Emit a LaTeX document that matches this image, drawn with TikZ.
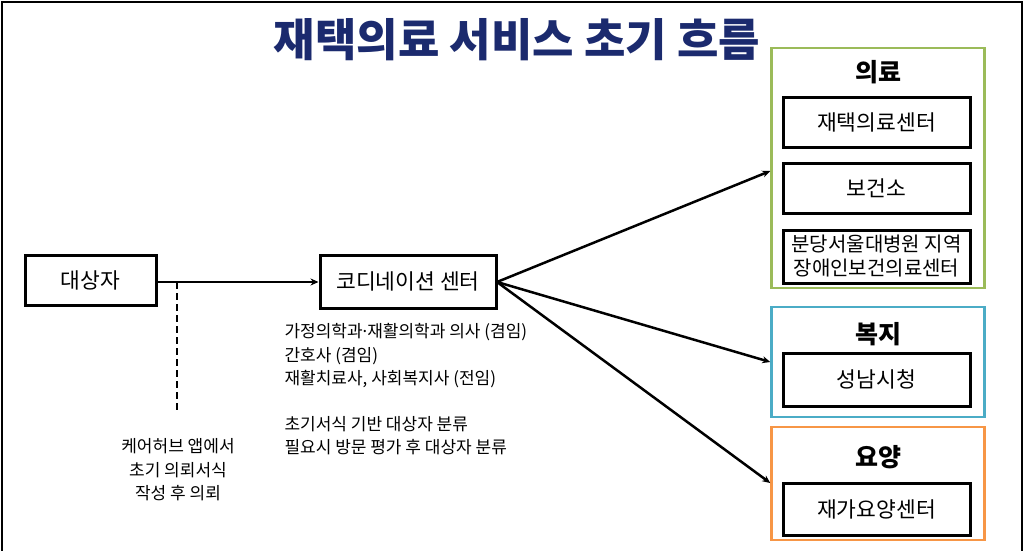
\documentclass[tikz,border=0pt]{standalone}
\usepackage{fontspec}
\setmainfont{Noto Sans CJK KR}
\newfontfamily\latinfont{Noto Sans}
\usepackage{tikz}
\usetikzlibrary{arrows.meta}
\definecolor{titleblue}{HTML}{1B2A6E}
\definecolor{grpgreen}{HTML}{9BBB59}
\definecolor{grpblue}{HTML}{4BACC6}
\definecolor{grporange}{HTML}{F79646}

\tikzset{
	box/.style={draw=black, line width=3pt, minimum width=#1, minimum height=50pt, font=\fontsize{21.5}{24}\selectfont, inner sep=0pt},
	box/.default=176pt,
	group/.style={draw=#1, line width=2.5pt, minimum width=213pt, inner sep=0pt},
	grptitle/.style={font=\fontsize{25}{28}\selectfont\bfseries},
	note/.style={font=\fontsize{17}{23.5}\selectfont},
	flow/.style={line width=2.5pt, -{Stealth[length=8pt,width=7pt]}}
}

\begin{document}
\begin{tikzpicture}[x=1pt,y=-1pt]
%\clip(0,0) rectangle (1025,550);
	\useasboundingbox (0,0) rectangle (1025,550);
	\draw[line width=2pt] (2,552) -- (2,2) -- (1022,2) -- (1022,552);
	\node[font=\fontsize{45}{48}\selectfont\bfseries, text=titleblue] (title) at (517,40) {재택의료 서비스 초기 흐름};

	% left side
	\node[box=131pt] (target) at (90.5,280) {대상자};
	\node[box=176pt, minimum height=53pt] (coord) at (408,281.5) {코디네이션 센터};
	\coordinate (tap) at (177,282);
	\coordinate (tend) at (177,410);
	\draw[flow] (target.east |- tap) -- (coord.west |- tap);
	\draw[line width=2.5pt, dash pattern=on 7pt off 4pt] (tap) -- (tend);
	\node[note, align=center] (app) at (178,470) {케어허브 앱에서\\초기 의뢰서식\\작성 후 의뢰};
	\node[note, align=left, anchor=north west] (staff) at (281,320) {가정의학과{\latinfont ·}재활의학과 의사 (겸임)\\간호사 (겸임)\\재활치료사, 사회복지사 (전임)\\[22pt]초기서식 기반 대상자 분류\\필요시 방문 평가 후 대상자 분류};

	% right side groups
	\node[group=grpgreen, minimum height=240pt] (med) at (878,168) {};
	\node[group=grpblue, minimum height=110pt] (wel) at (878,362) {};
	\node[group=grporange, minimum height=113pt] (care) at (878,483.5) {};
	\node[grptitle] (medt) at (878,72) {의료};
	\node[grptitle] (welt) at (878,334) {복지};
	\node[grptitle] (caret) at (878,457) {요양};

	\node[box=187pt] (home) at (876.5,122) {재택의료센터};
	\node[box=187pt] (health) at (876.5,188) {보건소};
	\node[box=187pt, minimum height=53pt, align=center, font=\fontsize{20}{24}\selectfont] (snuh) at (876.5,256.5) {분당서울대병원 지역\\장애인보건의료센터};
	\node[box=187pt, minimum height=53pt] (city) at (876.5,379.5) {성남시청};
	\node[box=187pt, minimum height=52pt] (ltc) at (876.5,509) {재가요양센터};

	\coordinate (fork) at (497,282);
	\draw[flow] (fork) -- (med.west |- 0,171);
	\draw[flow] (fork) -- (wel.west);
	\draw[flow] (fork) -- (care.west |- 0,483);
\end{tikzpicture}
\end{document}
